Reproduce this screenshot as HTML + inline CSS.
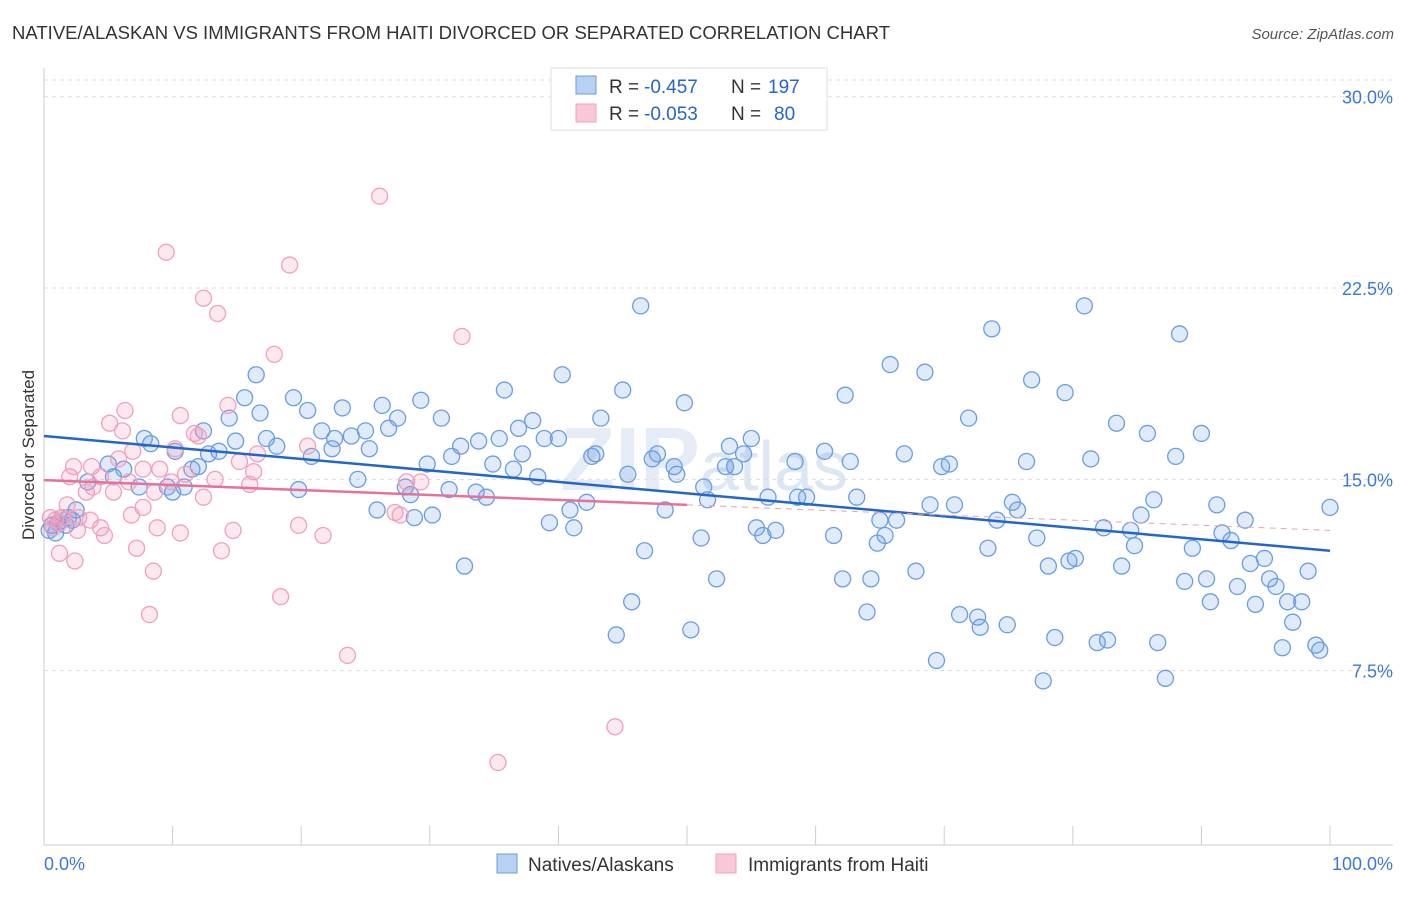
<!DOCTYPE html>
<html><head><meta charset="utf-8"><style>
body{margin:0;background:#fff;font-family:"Liberation Sans",sans-serif;}
svg text{font-family:"Liberation Sans",sans-serif;}
</style></head><body>
<svg id="chart" width="1406" height="892" xmlns="http://www.w3.org/2000/svg">
<text x="12" y="39" font-size="18.5" fill="#333" textLength="878">NATIVE/ALASKAN VS IMMIGRANTS FROM HAITI DIVORCED OR SEPARATED CORRELATION CHART</text>
<text x="1394" y="39" font-size="15" fill="#555" font-style="italic" text-anchor="end">Source: ZipAtlas.com</text>
<text x="560" y="490" font-size="90" fill="#e6ecf5" font-weight="bold">ZIP<tspan font-weight="normal" font-size="70" fill="#dce6f4">atlas</tspan></text>
<g id="grid"></g>
<g id="axes"></g>
<g id="pts"></g>
<g id="trend"></g>
<text transform="translate(34,455) rotate(-90)" font-size="17" fill="#333" text-anchor="middle">Divorced or Separated</text>
<g>
<rect x="551" y="68" width="276" height="62" fill="#fff" stroke="#ddd"/>
<rect x="576" y="76" width="20" height="18" fill="#b8d0f2" stroke="#6a9de0"/>
<text x="609" y="93" font-size="19" fill="#333">R =</text>
<text x="644" y="93" font-size="19" fill="#2266cc">-0.457</text>
<text x="731" y="93" font-size="19" fill="#333">N =</text>
<text x="768" y="93" font-size="19" fill="#2266cc">197</text>
<rect x="576" y="104" width="20" height="18" fill="#f8c8d8" stroke="#f0a0bc"/>
<text x="609" y="120" font-size="19" fill="#333">R =</text>
<text x="644" y="120" font-size="19" fill="#2266cc">-0.053</text>
<text x="731" y="120" font-size="19" fill="#333">N =</text>
<text x="774" y="120" font-size="19" fill="#2266cc">80</text>
</g>
<g>
<rect x="497" y="854" width="20" height="19" fill="#b8d0f2" stroke="#6a9de0"/>
<text x="528" y="871" font-size="19" fill="#333">Natives/Alaskans</text>
<rect x="716" y="854" width="20" height="19" fill="#f8c8d8" stroke="#f0a0bc"/>
<text x="748" y="871" font-size="19" fill="#333">Immigrants from Haiti</text>
</g>
</svg>
<script>
const yTicks=[7.5,15,22.5,30];
const yTickLabels=["7.5%","15.0%","22.5%","30.0%"];
const xTicks=[0,10,20,30,40,50,60,70,80,90,100];
const blueX=[46.4,80.9,73.7,88.3,65.8,68.5,40.3,16.5,76.8,35.8,45.0,79.4,62.3,15.6,19.4,29.3,49.8,26.3,23.2,20.5,16.8,43.3,30.9,27.5,38.0,71.9,14.4,83.4,26.8,36.9,12.4,25.0,21.6,90.0,85.8,23.9,22.6,17.3,7.8,35.4,38.9,40.0,33.8,8.3,14.9,53.3,55.0,18.1,25.3,32.4,60.7,54.4,88.0,66.9,13.6,47.7,22.4,20.8,42.9,42.6,31.7,12.8,10.2,81.4,47.3,37.2,76.4,58.4,62.7,34.9,5.0,29.8,53.7,70.4,69.8,53.0,49.0,36.5,11.5,6.2,12.0,45.4,24.4,49.2,38.4,5.4,3.4,28.1,33.6,10.9,19.8,51.3,9.6,10.0,7.4,28.5,31.5,34.4,56.3,51.6,58.6,59.3,63.2,86.3,91.2,100,75.3,70.8,68.9,42.2,40.9,75.7,85.3,48.3,25.9,30.2,28.8,65.0,66.3,74.1,93.4,82.4,39.3,41.2,55.4,56.9,55.9,84.5,91.6,92.3,77.2,61.4,65.4,51.1,64.8,84.8,46.7,73.4,89.3,94.9,80.2,79.7,93.8,78.1,83.8,32.7,67.8,98.3,95.3,62.1,64.3,52.3,88.7,90.4,95.8,92.8,97.8,96.7,94.2,90.7,45.7,71.2,72.6,64.0,97.1,72.8,74.9,44.5,50.3,78.6,82.7,81.9,86.6,96.3,99.2,98.9,69.4,77.7,87.2,0.6,1.1,1.4,1.7,2.2,2.5,1.9,0.9,0.4];
const blueY=[21.8,21.8,20.9,20.7,19.5,19.2,19.1,19.1,18.9,18.5,18.5,18.4,18.3,18.2,18.2,18.1,18.0,17.9,17.8,17.7,17.6,17.4,17.4,17.4,17.3,17.4,17.4,17.2,17.0,17.0,16.9,16.9,16.9,16.8,16.8,16.7,16.6,16.6,16.6,16.6,16.6,16.6,16.5,16.4,16.5,16.3,16.6,16.3,16.2,16.3,16.1,16.0,15.9,16.0,16.1,16.0,16.2,15.9,16.0,15.9,15.9,16.0,16.1,15.8,15.8,16.0,15.7,15.7,15.7,15.6,15.6,15.6,15.5,15.6,15.5,15.5,15.5,15.4,15.4,15.4,15.5,15.2,15.0,15.2,15.1,15.1,14.9,14.7,14.5,14.7,14.6,14.7,14.7,14.5,14.7,14.4,14.6,14.3,14.3,14.2,14.3,14.3,14.3,14.2,14.0,13.9,14.1,14.0,14.0,14.1,13.8,13.8,13.6,13.8,13.8,13.6,13.5,13.4,13.4,13.4,13.4,13.1,13.3,13.1,13.1,13.0,12.8,13.0,12.9,12.6,12.7,12.8,12.8,12.7,12.5,12.4,12.2,12.3,12.3,11.9,11.9,11.8,11.7,11.6,11.6,11.6,11.4,11.4,11.1,11.1,11.1,11.1,11.0,11.1,10.8,10.8,10.2,10.2,10.1,10.2,10.2,9.7,9.6,9.8,9.4,9.2,9.3,8.9,9.1,8.8,8.7,8.6,8.6,8.4,8.3,8.5,7.9,7.1,7.2,13.2,13.3,13.5,13.2,13.4,13.8,13.5,12.9,13.0];
const pinkX=[26.1,9.5,19.1,12.4,13.5,32.5,17.9,14.3,6.3,10.6,5.1,6.1,11.7,12.0,20.5,10.2,6.9,16.6,5.8,15.2,2.3,3.7,7.7,9.0,16.3,11.0,2.0,4.4,13.3,9.9,6.6,16.0,28.2,29.3,3.8,5.4,8.6,12.4,3.3,1.8,7.7,6.8,27.3,27.7,1.4,2.7,3.6,19.8,8.8,14.7,10.6,4.4,21.7,2.6,4.7,7.2,13.8,1.2,2.4,8.5,18.4,8.2,23.6,44.4,35.3,0.5,0.9,0.7,1.2];
const pinkY=[26.1,23.9,23.4,22.1,21.5,20.6,19.9,17.9,17.7,17.5,17.2,16.9,16.8,16.7,16.3,16.2,16.1,16.0,15.8,15.7,15.5,15.5,15.4,15.4,15.3,15.2,15.1,15.1,15.0,14.9,14.9,14.8,14.9,14.9,14.7,14.5,14.5,14.3,14.5,14.0,13.9,13.6,13.7,13.6,13.5,13.5,13.4,13.2,13.1,13.0,12.9,13.1,12.8,13.0,12.8,12.3,12.2,12.1,11.8,11.4,10.4,9.7,8.1,5.3,3.9,13.5,13.4,13.1,13.3];
const blueTrend=[16.7,12.2];
const pinkTrend=[14.97,14.0,13.0];

const NS="http://www.w3.org/2000/svg";
const X=v=>44+v*12.86;
const Y=v=>862-v*25.51;
function mk(tag,attrs,parent){const e=document.createElementNS(NS,tag);for(const k in attrs)e.setAttribute(k,attrs[k]);document.getElementById(parent).appendChild(e);return e;}
yTicks.forEach((t,i)=>{
  const l=mk('line',{x1:44,x2:1393,y1:Y(t),y2:Y(t),stroke:'#ddd','stroke-dasharray':'4,4'},'grid');
  
  
  const tx=mk('text',{x:1393,y:Y(t)+7,'font-size':18,fill:'#3b78d8','text-anchor':'end'},'grid');
  tx.textContent=yTickLabels[i];
  
  
});
const topLine=mk('line',{x1:44,x2:1393,y1:80,y2:80,stroke:'#ddd','stroke-dasharray':'4,4'},'grid');


const ya=mk('line',{x1:44,x2:44,y1:68,y2:845,stroke:'#ccc'},'axes');


const xa=mk('line',{x1:44,x2:1393,y1:845,y2:845,stroke:'#ccc'},'axes');


xTicks.forEach(t=>{
  const l=mk('line',{x1:X(t),x2:X(t),y1:826,y2:845,stroke:'#ccc'},'axes');
  
  
});
const xl0=mk('text',{x:44,y:870,'font-size':18,fill:'#3b78d8'},'axes');
xl0.textContent='0.0%';


const xl1=mk('text',{x:1393,y:870,'font-size':18,fill:'#3b78d8','text-anchor':'end'},'axes');
xl1.textContent='100.0%';


blueX.forEach((x,i)=>{
  const c=mk('circle',{cx:X(x),cy:Y(blueY[i]),r:8,fill:'rgba(110,160,230,0.22)',stroke:'#6a9de0','stroke-width':1.3},'pts');
  
  
});
pinkX.forEach((x,i)=>{
  const c=mk('circle',{cx:X(x),cy:Y(pinkY[i]),r:8,fill:'rgba(240,150,180,0.22)',stroke:'#f0a0bc','stroke-width':1.3},'pts');
  
  
});
const bt=mk('line',{x1:X(0),y1:Y(blueTrend[0]),x2:X(100),y2:Y(blueTrend[1]),stroke:'#2266cc','stroke-width':2.5},'trend');


const pt=mk('line',{x1:X(0),y1:Y(pinkTrend[0]),x2:X(50),y2:Y(pinkTrend[1]),stroke:'#e8709a','stroke-width':2.5},'trend');


const pd=mk('line',{x1:X(50),y1:Y(pinkTrend[1]),x2:X(100),y2:Y(pinkTrend[2]),stroke:'#e8a0b8','stroke-width':1,'stroke-dasharray':'6,5'},'trend');


</script>
</body></html>
